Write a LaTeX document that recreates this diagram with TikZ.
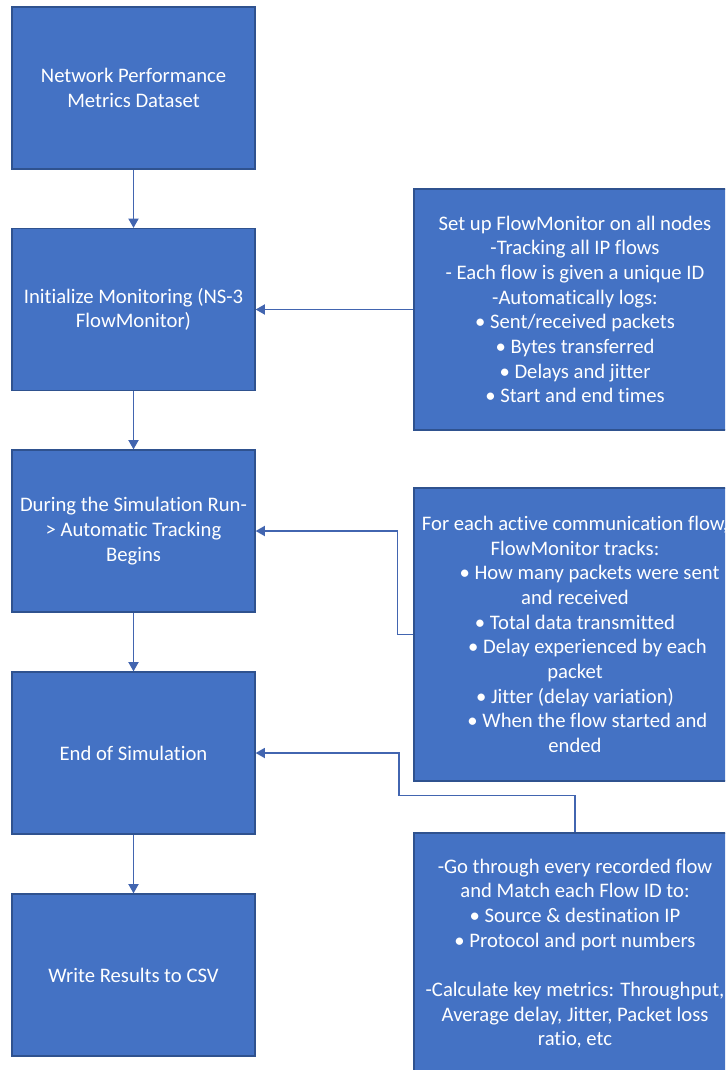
\documentclass[tikz,border=0pt]{standalone}
\usepackage{fontspec}
\setmainfont{Carlito}[Ligatures=NoCommon]
\usetikzlibrary{arrows.meta}
\definecolor{boxfill}{HTML}{4472C4}
\definecolor{boxedge}{HTML}{2F528F}
\definecolor{linkblue}{HTML}{4265B0}
\tikzset{
  stagebox/.style={draw=boxedge, line width=0.9pt, fill=boxfill, text=white,
    align=center, inner sep=2pt, minimum width=182.25pt, minimum height=121.5pt,
    font=\fontsize{15.5}{18.5}\selectfont},
  notebox/.style={draw=boxedge, line width=0.9pt, fill=boxfill, text=white,
    align=center, inner sep=2pt, minimum width=241.5pt,
    font=\fontsize{15.5}{18.5}\selectfont},
  link/.style={draw=linkblue, line width=1.35pt,
    -{Triangle[length=7pt,width=7.5pt]}}
}
\begin{document}
\begin{tikzpicture}[x=0.75pt,y=-0.75pt]
\useasboundingbox (0,0) rectangle (725,1070);
\clip (0,0) rectangle (725,1070);
\fill[white] (0,0) rectangle (725,1070);

% main pipeline, left column
\node[stagebox] (dataset) at (133.5,88) {Network Performance\\Metrics Dataset};
\node[stagebox] (init) at (133.5,309.5) {Initialize Monitoring (NS-3\\FlowMonitor)};
\node[stagebox] (run) at (133.5,531) {During the Simulation Run-\\> Automatic Tracking\\Begins};
\node[stagebox] (endsim) at (133.5,753) {End of Simulation};
\node[stagebox] (write) at (133.5,975) {Write Results to CSV};

% explanatory notes, right column
\node[notebox, minimum height=180.75pt] (setup) at (575,309.5) {Set up FlowMonitor on all nodes\\
  -Tracking all IP flows\\
  - Each flow is given a unique ID\\
  -Automatically logs:\\
  •~Sent/received packets\\
  •~Bytes transferred\\
  •~Delays and jitter\\
  •~Start and end times};
\node[notebox, minimum height=219.75pt] (tracks) at (575,634.5) {For each active communication flow,\\
  FlowMonitor tracks:\\
  \hspace*{1.4em}•~How many packets were sent\\
  and received\\
  •~Total data transmitted\\
  \hspace*{1.2em}•~Delay experienced by each\\
  packet\\
  •~Jitter (delay variation)\\
  \hspace*{1.2em}•~When the flow started and\\
  ended};
\node[notebox, minimum height=180.75pt] (post) at (575,953.5) {-Go through every recorded flow\\
  and Match each Flow ID to:\\
  •~Source \& destination IP\\
  •~Protocol and port numbers\\[18.5pt]
  -Calculate key metrics: Throughput,\\
  Average delay, Jitter, Packet loss\\
  ratio, etc};

% connectors
\draw[link] (dataset.south) -- (init.north);
\draw[link] (init.south) -- (run.north);
\draw[link] (run.south) -- (endsim.north);
\draw[link] (endsim.south) -- (write.north);
\draw[link] (setup.west) -- (init.east);
\draw[link] (tracks.west) -- ++(-16,0) |- (run.east);
\draw[link] (post.north) -- ++(0,-37) -- ++(-176,0) |- (endsim.east);
\end{tikzpicture}
\end{document}
